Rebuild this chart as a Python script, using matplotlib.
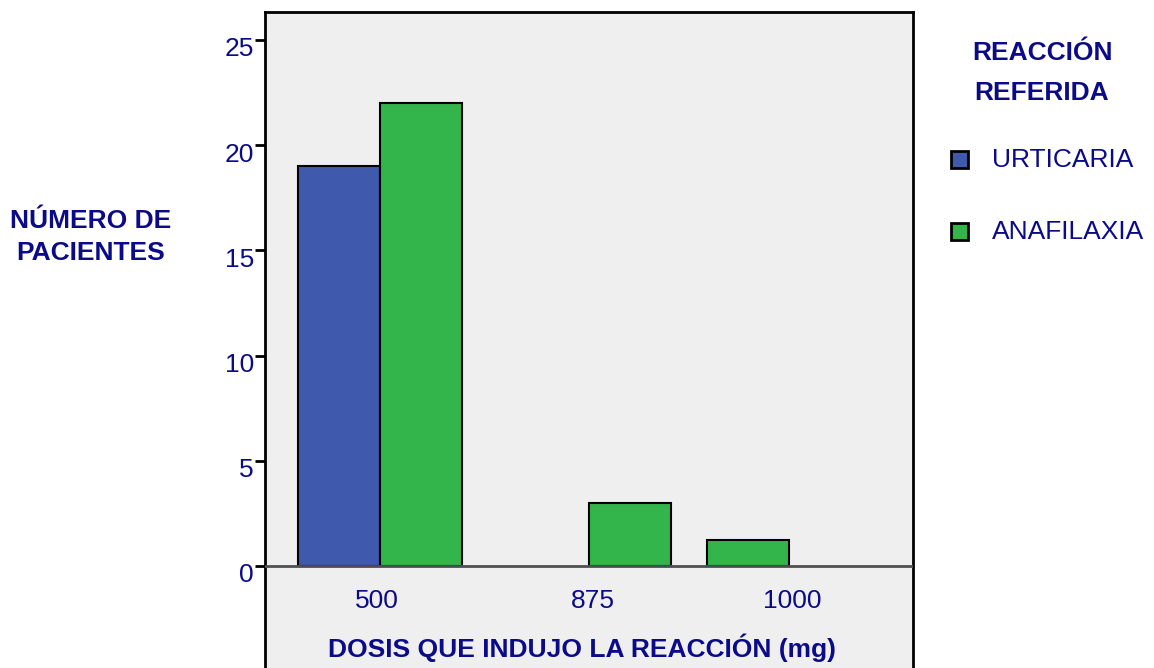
import matplotlib.pyplot as plt
import matplotlib.transforms as mtransforms
from matplotlib.patches import Rectangle

plt.rcParams['font.family'] = ['Liberation Sans', 'DejaVu Sans']

# datos
dosis = ['500', '875', '1000']
urticaria = [19, 0, 0]
anafilaxia = [22, 3, 1.25]
# posicion de cada barra dentro del grupo (-1 izquierda, +1 derecha)
lado_urt = [-1, -1, -1]
lado_ana = [1, 1, -1]
yticks = [0, 5, 10, 15, 20, 25]

azul = '#3f5aad'
verde = '#34b54b'
texto = '#0b0b8a'
fs = 19

fig = plt.figure(figsize=(11.54, 6.68), dpi=100)
W, H = 1154, 668
top_px, bot_px, left_px, right_px = 12, 680, 265, 913
ax = fig.add_axes([left_px / W, (H - bot_px) / H, (right_px - left_px) / W, (bot_px - top_px) / H])
ax.set_facecolor('#efefef')

pos = [0, 1, 1.955]
ancho = 0.392
for i in range(len(dosis)):
    if urticaria[i] > 0:
        ax.bar(pos[i] + lado_urt[i] * ancho / 2, urticaria[i], width=ancho, color=azul,
               edgecolor='black', linewidth=1.5, zorder=3)
    if anafilaxia[i] > 0:
        ax.bar(pos[i] + lado_ana[i] * ancho / 2, anafilaxia[i], width=ancho, color=verde,
               edgecolor='black', linewidth=1.5, zorder=3)

ax.axhline(0, color='#505050', linewidth=2, zorder=4)

ax.set_xlim(-0.55, 2.55)
ax.set_ylim(-(bot_px - 566) / 21.04, 25 + (40 - top_px) / 21.04)

ax.set_xticks([])
ax.set_yticks(yticks)
ax.set_yticklabels([str(v) for v in yticks], fontsize=fs, color=texto)
ax.tick_params(axis='y', direction='out', length=7, width=2, color='black', pad=1)
off = mtransforms.ScaledTranslation(0, -7 / 100, fig.dpi_scale_trans)
for lab in ax.get_yticklabels():
    lab.set_transform(lab.get_transform() + off)

for sp in ['left', 'top', 'right', 'bottom']:
    ax.spines[sp].set_linewidth(2)
    ax.spines[sp].set_color('black')

# etiquetas de categoria dentro del area del grafico
trans = mtransforms.blended_transform_factory(ax.transData, fig.transFigure)
for p, d in zip([-0.015, 1.02, 1.97], dosis):
    ax.text(p, 1 - 601 / H, d, fontsize=fs, color=texto, ha='center', va='center', transform=trans)

fig.text(582 / W, 1 - 648 / H, 'DOSIS QUE INDUJO LA REACCIÓN (mg)', fontsize=fs,
         fontweight='bold', color=texto, ha='center', va='center')
fig.text(91 / W, 1 - 237 / H, 'NÚMERO DE\nPACIENTES', fontsize=fs, fontweight='bold',
         color=texto, ha='center', va='center', linespacing=1.42)

# leyenda
fig.text(1042 / W, 1 - 73 / H, 'REACCIÓN\nREFERIDA', fontsize=fs, fontweight='bold',
         color=texto, ha='center', va='center', linespacing=1.85)
for nombre, col, yp in [('URTICARIA', azul, 160), ('ANAFILAXIA', verde, 232)]:
    fig.patches.append(Rectangle((951 / W, 1 - (yp + 8) / H), 17 / W, 17 / H,
                                 transform=fig.transFigure, facecolor=col,
                                 edgecolor='black', linewidth=2))
    fig.text(992 / W, 1 - yp / H, nombre, fontsize=fs, color=texto, ha='left', va='center')

fig.savefig('out.png', dpi=100)
